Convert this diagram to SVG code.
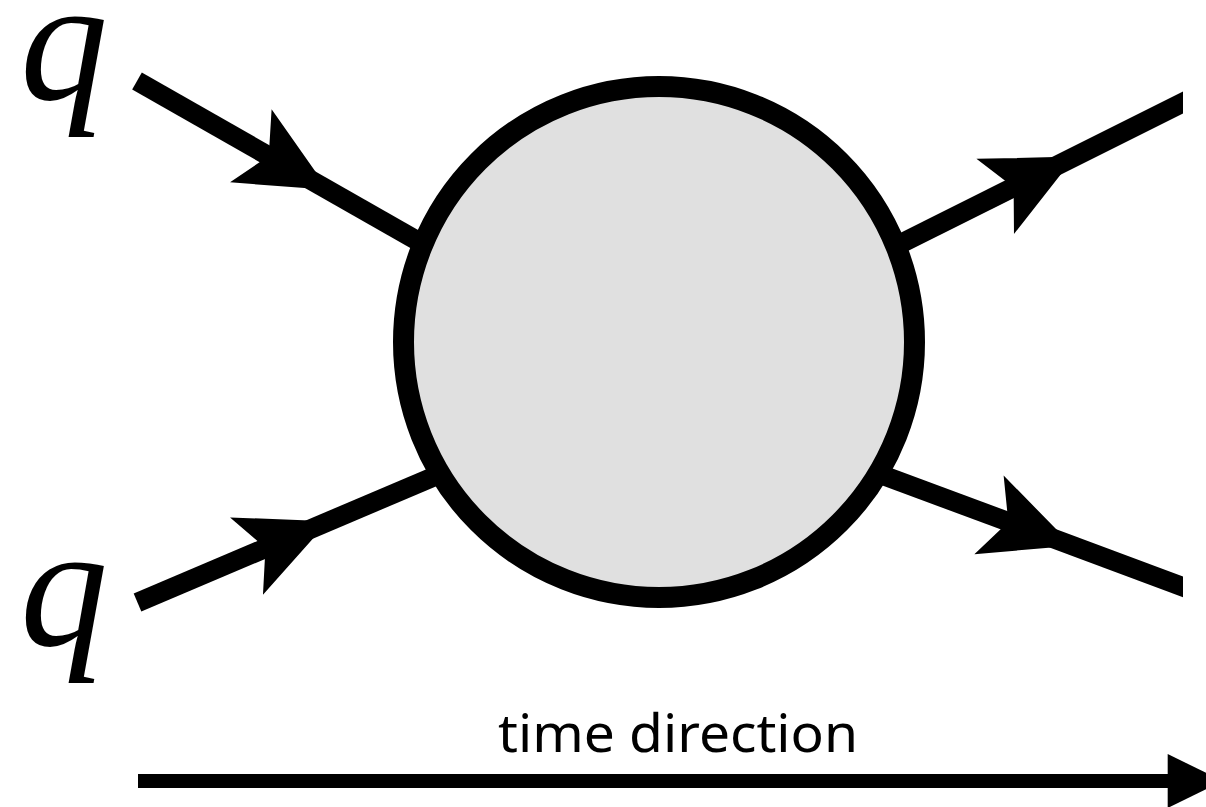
<svg xmlns="http://www.w3.org/2000/svg" width="1206" height="807" viewBox="0 0 1206 807">
  <style>
    .ln { stroke: #000; stroke-width: 19.5; fill: none; stroke-linecap: butt; }
    .ah { fill: #000; stroke: none; }
    .q { font-family: "Liberation Serif", "Times New Roman", serif; font-style: italic; font-size: 176px; fill: #000; }
    .lbl { font-family: "Noto Sans", "Liberation Sans", sans-serif; font-size: 52px; fill: #000; }
  </style>
  <defs>
    <path id="head" d="M0,0 L-89,-42 L-68.4,0 L-89,42 Z"/>
    <clipPath id="clipR"><rect x="0" y="0" width="1183" height="807"/></clipPath>
  </defs>
  <rect x="0" y="0" width="1206" height="807" fill="#fff"/>

  <g id="connectors">
    <line class="ln" x1="137" y1="81" x2="430" y2="248"/>
    <line class="ln" x1="137.5" y1="602.5" x2="445" y2="472"/>
    <g clip-path="url(#clipR)">
      <line class="ln" x1="895" y1="246.5" x2="1200" y2="94"/>
      <line class="ln" x1="875" y1="472.3" x2="1200" y2="593.1"/>
    </g>
    <use href="#head" class="ah" transform="translate(328.2,189.8) rotate(29.63)"/>
    <use href="#head" class="ah" transform="translate(328.4,521.2) rotate(-23.06)"/>
    <use href="#head" class="ah" transform="translate(1074.8,156.6) rotate(-26.57)"/>
    <use href="#head" class="ah" transform="translate(1072.4,545.8) rotate(20.4)"/>
  </g>

  <g id="blob">
    <circle cx="659" cy="342" r="255.5" fill="#e0e0e0" stroke="#000" stroke-width="21"/>
  </g>

  <g id="q-top">
    <text class="q" x="20" y="100">q</text>
  </g>
  <g id="q-bottom">
    <text class="q" x="20" y="646">q</text>
  </g>

  <g id="time-arrow">
    <rect x="138" y="774" width="1032" height="14" fill="#000"/>
    <polygon points="1167.7,754 1222.7,781 1167.7,808" fill="#000"/>
    <text class="lbl" x="498" y="752" textLength="360" lengthAdjust="spacingAndGlyphs">time direction</text>
  </g>
</svg>
